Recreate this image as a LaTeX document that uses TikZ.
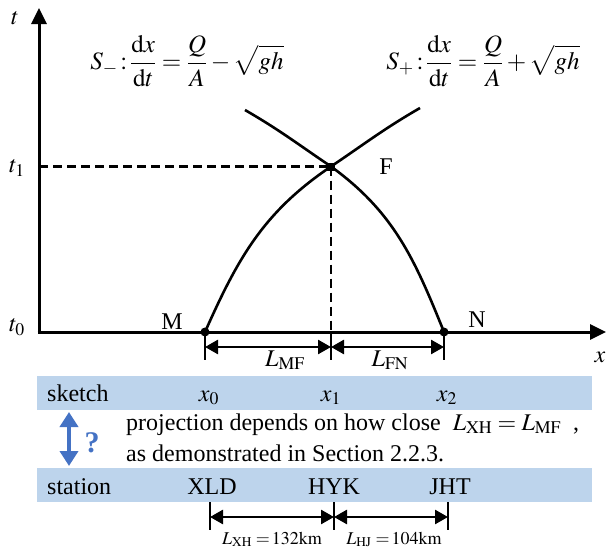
\documentclass[tikz,border=0pt]{standalone}
\usepackage{mathptmx}
\usepackage{fontspec}
\setmainfont{Liberation Serif}
\usetikzlibrary{arrows.meta,calc}
\definecolor{bandblue}{RGB}{189,212,236}
\definecolor{arrblue}{RGB}{68,114,196}
\tikzset{
  big/.style={font=\fontsize{24}{28}\selectfont, inner sep=0pt},
  small/.style={font=\fontsize{18}{22}\selectfont, inner sep=0pt},
  axisline/.style={line width=3pt, -{Triangle[length=16pt,width=15pt]}},
  curveline/.style={line width=2.6pt},
  dashline/.style={line width=2.1pt, dash pattern=on 9pt off 5pt},
  dimline/.style={line width=2.6pt, {Triangle[length=13pt,width=14pt]}-{Triangle[length=13pt,width=14pt]}},
  tickline/.style={line width=2.2pt},
  band/.style={fill=bandblue, draw=none},
  dotmark/.style={circle, fill=black, inner sep=0pt, minimum size=9pt},
  sqmark/.style={rectangle, fill=black, inner sep=0pt, minimum size=8pt},
  bluearrow/.style={line width=4.5pt, draw=arrblue, {Triangle[length=15pt,width=18pt]}-{Triangle[length=15pt,width=18pt]}}
}
\begin{document}
\begin{tikzpicture}[x=1pt,y=1pt]
\useasboundingbox (0,0) rectangle (606,-549);
% bands
\fill[band] (37,-376) rectangle (592,-410);
\fill[band] (37,-468) rectangle (592,-502);
% coordinates
\coordinate (O) at (39,-332);
\coordinate (Ttop) at (39,-8);
\coordinate (Xend) at (606,-332);
\coordinate (T1) at (39,-166.5);
\coordinate (A1) at (245,-110);
\coordinate (A2) at (420,-108);
\coordinate (Fx) at (331,-332);
\coordinate (Mb) at (205,-360);
\coordinate (Fb) at (331,-360);
\coordinate (Nb) at (444,-360);
\coordinate (Ma) at (205,-347);
\coordinate (Fa) at (331,-347);
\coordinate (Na) at (444,-347);
% axes
\draw[axisline] ($(O)+(-1.5,0)$) -- (Xend);
\draw[axisline] ($(O)+(0,1.5)$) -- (Ttop);
% points
\node[dotmark] (M) at (205,-332) {};
\node[dotmark] (N) at (444,-332) {};
\node[sqmark] (F) at (331,-166.5) {};
% dashed
\draw[dashline] (T1) -- (F.center);
\draw[dashline] (F.center) -- (Fx);
% characteristics
\draw[curveline] (M.center) to[out=66,in=-146] (F.center) to[out=34,in=-150] (A2);
\draw[curveline] (N.center) to[out=112,in=-36] (F.center) to[out=146,in=-30] (A1);
% ticks and dimensions
\draw[tickline] (M.center) -- (Mb);
\draw[tickline] (Fx) -- (Fb);
\draw[tickline] (N.center) -- (Nb);
\draw[dimline] (Ma) -- (Fa);
\draw[dimline] (Fa) -- (Na);
% labels
\node[big] (lt) at (15,-18) {$t$};
\node[big] (lx) at (600,-357) {$x$};
\node[big] (lt1) at (17,-168) {$t_1$};
\node[big] (lt0) at (17,-327) {$t_0$};
\node[big] (lM) at (172,-322) {M};
\node[big] (lN) at (477,-320) {N};
\node[big] (lF) at (386,-167) {F};
\node[big, anchor=base] (lMF) at (285,-366) {$L_{\mathrm{MF}}$};
\node[big, anchor=base] (lFN) at (390,-366) {$L_{\mathrm{FN}}$};
% equations
\node[big, font=\fontsize{25}{29}\selectfont] (eqm) at (187,-61) {$\displaystyle S_{-}\!:\!\frac{\mathrm{d}x}{\mathrm{d}t}=\frac{Q}{A}-\sqrt{gh}$};
\node[big, font=\fontsize{25}{29}\selectfont] (eqp) at (483,-61) {$\displaystyle S_{+}\!:\!\frac{\mathrm{d}x}{\mathrm{d}t}=\frac{Q}{A}+\sqrt{gh}$};
% sketch row
\node[big, anchor=base west] (sk) at (47,-401) {sketch};
\node[big, anchor=base] (x0) at (209,-401) {$x_0$};
\node[big, anchor=base] (x1) at (331,-401) {$x_1$};
\node[big, anchor=base] (x2) at (447,-401) {$x_2$};
% middle text
\coordinate (BA1) at (69,-412);
\coordinate (BA2) at (69,-466);
\draw[bluearrow] (BA1) -- (BA2);
\node[big, font=\fontsize{30}{34}\selectfont\bfseries, text=arrblue, anchor=base] (q) at (92,-452) {?};
\node[big, anchor=base west] (p1) at (126,-430) {projection depends on how close \ $L_{\mathrm{XH}}=L_{\mathrm{MF}}$ \ ,};
\node[big, anchor=base west] (p2) at (126,-461) {as demonstrated in Section 2.2.3.};
% station row
\node[big, anchor=base west] (st) at (47,-494) {station};
\node[big, anchor=base] (xld) at (212,-494) {XLD};
\node[big, anchor=base] (hyk) at (334,-494) {HYK};
\node[big, anchor=base] (jht) at (450,-494) {JHT};
\coordinate (S1t) at (210,-502);
\coordinate (S1b) at (210,-530);
\coordinate (S2t) at (334,-502);
\coordinate (S2b) at (334,-530);
\coordinate (S3t) at (448,-502);
\coordinate (S3b) at (448,-530);
\coordinate (S1a) at (210,-517);
\coordinate (S2a) at (334,-517);
\coordinate (S3a) at (448,-517);
\draw[tickline] (S1t) -- (S1b);
\draw[tickline] (S2t) -- (S2b);
\draw[tickline] (S3t) -- (S3b);
\draw[dimline] (S1a) -- (S2a);
\draw[dimline] (S2a) -- (S3a);
\node[small, anchor=base] (lxh) at (272,-544) {$L_{\mathrm{XH}}\;{=}\,132\mathrm{km}$};
\node[small, anchor=base] (lhj) at (394,-544) {$L_{\mathrm{HJ}}\;{=}\,104\mathrm{km}$};
\end{tikzpicture}
\end{document}
